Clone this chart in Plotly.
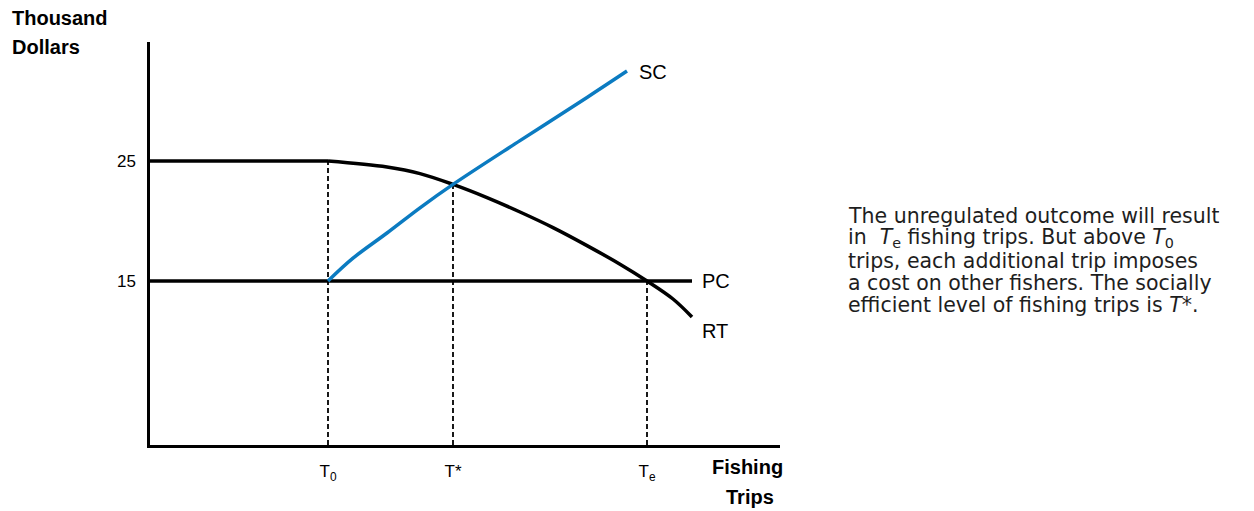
import plotly.graph_objects as go

# ---- data (x in trips, arbitrary units; y in thousand dollars) ----
T0, TSTAR, TE = 178, 303, 497

rt_flat_x = [0, 178]
rt_flat_y = [25, 25]
rt_x = [178, 237, 270, 303, 337, 370, 403, 437, 470, 497, 523, 542]
rt_y = [25.0, 24.5, 23.95, 23.05, 21.95, 20.75, 19.45, 17.95, 16.4, 15.0, 13.5, 12.0]

sc_x = [178, 203, 237, 270, 303, 370, 437, 477]
sc_y = [15.0, 16.9, 19.0, 21.1, 23.05, 26.7, 30.3, 32.5]

pc_x = [0, 542]
pc_y = [15, 15]

y_ticks = [15, 25]
x_ticks = [T0, TSTAR, TE]
x_ticktext = ["T<sub>0</sub>", "T*", "T<sub>e</sub>"]

# dashed guide tops (where the verticals meet the curves)
guide_x = [T0, TSTAR, TE]
guide_top = [25, 23.05, 15.0]

note_lines = [
    "The unregulated outcome will result",
    "in  <i>T</i><sub>e</sub> fishing trips. But above <i>T</i><sub>0</sub>",
    "trips, each additional trip imposes",
    "a cost on other fishers. The socially",
    "efficient level of fishing trips is <i>T</i>*.",
]

# ---- layout geometry (page body has an 8px margin) ----
OFF = 8
W, H = 1254 - 2 * OFF, 511 - OFF
L, T, B = 150 - OFF, 42 - OFF, 66
R = W - L - 630
X_RANGE = [0, 630]
Y_RANGE = [1.33, 34.92]
FONT = "Liberation Sans, Arial, Helvetica, sans-serif"
NOTE_FONT = "DejaVu Sans, Liberation Sans, sans-serif"
BLUE = "#0B7BC1"


def px(xp):
    # screen pixel -> paper x
    return (xp - 150) / 630


def py(yp):
    # screen pixel -> paper y
    return (445 - yp) / 403


fig = go.Figure()

# dashed verticals
for gx, gt in zip(guide_x, guide_top):
    fig.add_trace(go.Scatter(x=[gx, gx], y=[Y_RANGE[0], gt], mode="lines",
                             line=dict(color="black", width=1.8, dash="5px,3px"),
                             hoverinfo="skip", showlegend=False))

fig.add_trace(go.Scatter(x=pc_x, y=pc_y, mode="lines",
                         line=dict(color="black", width=3.5), showlegend=False))
fig.add_trace(go.Scatter(x=rt_flat_x, y=rt_flat_y, mode="lines",
                         line=dict(color="black", width=3.5), showlegend=False))
fig.add_trace(go.Scatter(x=rt_x, y=rt_y, mode="lines",
                         line=dict(color="black", width=3.5, shape="spline", smoothing=1),
                         showlegend=False))
fig.add_trace(go.Scatter(x=sc_x, y=sc_y, mode="lines",
                         line=dict(color=BLUE, width=3.5, shape="spline", smoothing=1),
                         showlegend=False))

ann = []
# curve labels
ann.append(dict(x=487, y=32.4, text="SC", xanchor="left", yanchor="middle",
                showarrow=False, font=dict(size=20, color="black", family=FONT)))
ann.append(dict(x=550, y=15, text="PC", xanchor="left", yanchor="middle",
                showarrow=False, font=dict(size=20, color="black", family=FONT)))
ann.append(dict(x=550, y=10.85, text="RT", xanchor="left", yanchor="middle",
                showarrow=False, font=dict(size=20, color="black", family=FONT)))

# axis titles
for txt, xp, yp, anchor in [("Thousand", 10, 18, "left"), ("Dollars", 10, 47, "left"),
                            ("Fishing", 747, 467, "center"), ("Trips", 750, 497, "center")]:
    ann.append(dict(x=px(xp), y=py(yp), xref="paper", yref="paper", text="<b>%s</b>" % txt,
                    xanchor=anchor, yanchor="middle", showarrow=False,
                    font=dict(size=20, color="black", family=FONT)))

# side note, one annotation per line with a fixed box height so lines sit 22px apart
for i, line in enumerate(note_lines):
    ann.append(dict(x=px(847), y=py(216 + 22.3 * i), xref="paper", yref="paper", text=line,
                    xanchor="left", yanchor="middle", valign="middle", height=22,
                    borderpad=0, showarrow=False,
                    font=dict(size=20.5, color="#1e1e1e", family=NOTE_FONT)))

fig.update_layout(
    width=W, height=H,
    margin=dict(l=L, r=R, t=T, b=B),
    paper_bgcolor="white", plot_bgcolor="white",
    showlegend=False,
    annotations=ann,
    xaxis=dict(range=X_RANGE, showgrid=False, zeroline=False, showline=True,
               linecolor="black", linewidth=2.5, ticks="", tickvals=x_ticks,
               ticktext=x_ticktext, ticklabelstandoff=9,
               tickfont=dict(size=17, color="black", family=FONT), fixedrange=True),
    yaxis=dict(range=Y_RANGE, showgrid=False, zeroline=False, showline=True,
               linecolor="black", linewidth=2.5, ticks="", tickvals=y_ticks,
               ticklabelstandoff=8,
               tickfont=dict(size=17, color="black", family=FONT), fixedrange=True),
)

fig.write_html("out.html")
